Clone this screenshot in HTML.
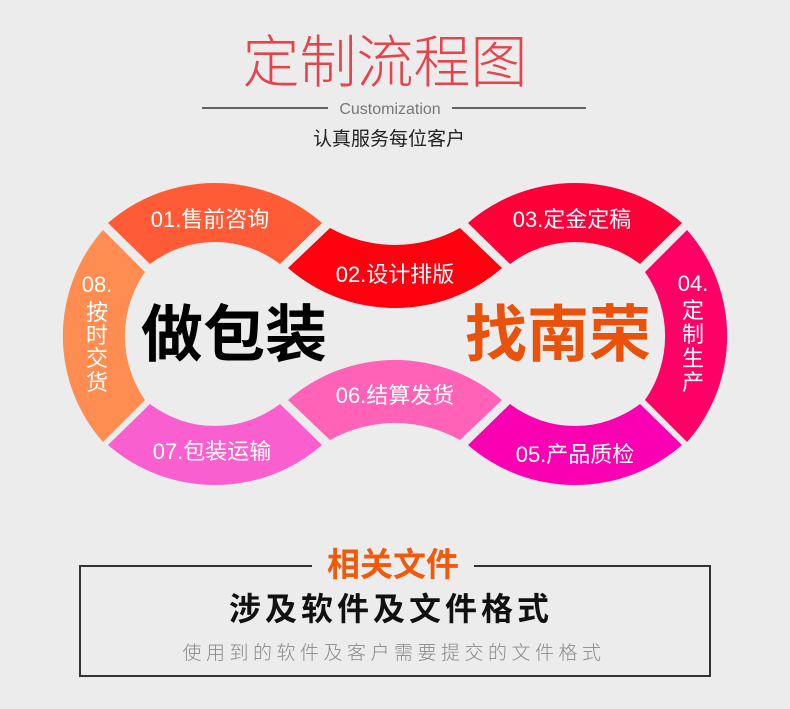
<!DOCTYPE html>
<html><head><meta charset="utf-8"><style>
html,body{margin:0;padding:0;background:#ececec;}
body{width:790px;height:709px;position:relative;overflow:hidden;font-family:"Liberation Sans","Noto Sans CJK SC",sans-serif;}
</style></head><body>
<svg width="790" height="709" style="position:absolute;left:0;top:0" xmlns="http://www.w3.org/2000/svg">
<text x="385" y="82" text-anchor="middle" font-family="Noto Sans CJK SC, sans-serif" font-weight="300" font-size="57" fill="#e6434a">定制流程图</text>
<line x1="202" y1="108" x2="328" y2="108" stroke="#111" stroke-width="1.2"/>
<line x1="452" y1="108" x2="586" y2="108" stroke="#111" stroke-width="1.2"/>
<text x="390" y="114" text-anchor="middle" font-family="Liberation Sans, sans-serif" font-size="16" fill="#777">Customization</text>
<text x="389" y="145" text-anchor="middle" font-family="Noto Sans CJK SC, sans-serif" font-size="19" fill="#222">认真服务每位客户</text>

<g>
<path d="M108,223 A163,163 0 0 1 322,223 L280,264 A107,107 0 0 0 150,264 Z" fill="#fe5b36"/>
<path d="M103,230 A160,160 0 0 0 103,442 L145,400 A112,112 0 0 1 145,272 Z" fill="#ff8c50"/>
<path d="M108,445 A163,163 0 0 0 322,445 L280,404 A107,107 0 0 1 150,404 Z" fill="#f95fce"/>
<path d="M330,228 A133,133 0 0 0 460,228 L502,268 A163,163 0 0 1 288,268 Z" fill="#fe000e"/>
<path d="M288,400 A163,163 0 0 1 502,400 L460,440 A133,133 0 0 0 330,440 Z" fill="#ff62b6"/>
</g>
<g transform="translate(790,0) scale(-1,1)">
<path d="M108,223 A163,163 0 0 1 322,223 L280,264 A107,107 0 0 0 150,264 Z" fill="#fe0038"/>
<path d="M103,230 A160,160 0 0 0 103,442 L145,400 A112,112 0 0 1 145,272 Z" fill="#fe0066"/>
<path d="M108,445 A163,163 0 0 0 322,445 L280,404 A107,107 0 0 1 150,404 Z" fill="#fb00b2"/>
</g>

<g font-family="Liberation Sans, Noto Sans CJK SC, sans-serif" font-size="22" fill="#fff" text-anchor="middle">
<text x="210" y="227">01.售前咨询</text>
<text x="395" y="282">02.设计排版</text>
<text x="572" y="227">03.定金定稿</text>
<text x="395" y="403">06.结算发货</text>
<text x="212" y="459">07.包装运输</text>
<text x="575" y="462">05.产品质检</text>
<text x="97" y="292">08.</text>
<text x="97" y="320">按</text>
<text x="97" y="343">时</text>
<text x="97" y="366">交</text>
<text x="97" y="390">货</text>
<text x="693" y="291">04.</text>
<text x="693" y="318">定</text>
<text x="693" y="342">制</text>
<text x="693" y="366">生</text>
<text x="693" y="390">产</text>
</g>
<text x="234" y="356" text-anchor="middle" font-family="Noto Sans CJK SC, sans-serif" font-weight="700" font-size="62" fill="#000">做包装</text>
<text x="558" y="356" text-anchor="middle" font-family="Noto Sans CJK SC, sans-serif" font-weight="700" font-size="62" fill="#e8520a">找南荣</text>

<path d="M312,566 L80,566 L80,676 L710,676 L710,566 L474,566" fill="none" stroke="#333" stroke-width="2"/>
<text x="393" y="576" text-anchor="middle" font-family="Noto Sans CJK SC, sans-serif" font-weight="700" font-size="33" fill="#f05a0a">相关文件</text>
<text x="391" y="620" text-anchor="middle" font-family="Noto Sans CJK SC, sans-serif" font-weight="700" font-size="32" letter-spacing="4" fill="#111">涉及软件及文件格式</text>
<text x="394" y="659" text-anchor="middle" font-family="Noto Sans CJK SC, sans-serif" font-weight="300" font-size="19" letter-spacing="4.5" fill="#888">使用到的软件及客户需要提交的文件格式</text>
</svg>
</body></html>
